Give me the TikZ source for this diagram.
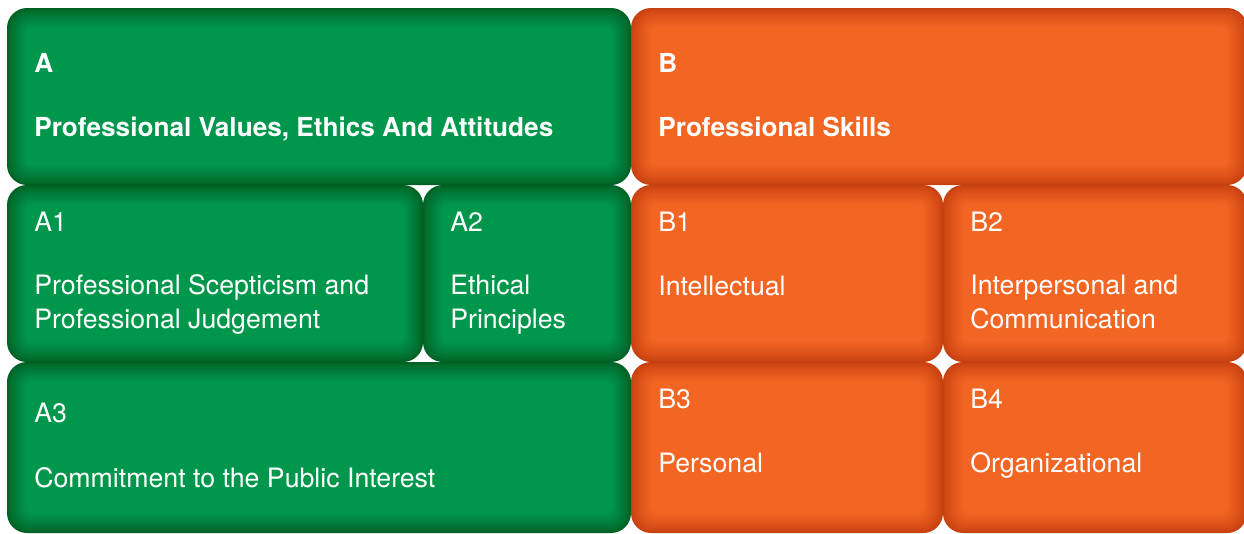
\documentclass[tikz,border=0pt]{standalone}
\usepackage{fontspec}
\setmainfont{TeX Gyre Heros}
\usetikzlibrary{positioning}
\definecolor{greenlight}{RGB}{0,151,76}
\definecolor{greendark}{RGB}{0,96,36}
\definecolor{orangelight}{RGB}{243,101,35}
\definecolor{orangedark}{RGB}{198,64,16}

\begin{document}
\begin{tikzpicture}[x=0.02cm,y=-0.02cm]
	\tikzset{
		label/.style={anchor=base west,inner sep=0,text=white,font=\fontsize{15.2}{18.8}\selectfont},
		heading/.style={label,font=\fontsize{14.9}{18.8}\selectfont\bfseries},
		body/.style={label,align=left},
	}
	\useasboundingbox (0,0) rectangle (1244,534);
	\clip (0,0) rectangle (1244,534);
	
	% panels: dark rim fading into a lighter core
	\foreach \name/\xa/\ya/\xb/\yb/\tone in {A/7/8/631/185/green, B/631/8/1247/185/orange,
		A1/7/185/423/362/green, A2/423/185/631/362/green, B1/631/185/943/362/orange, B2/943/185/1247/362/orange,
		A3/7/362/631/533/green, B3/631/362/943/533/orange, B4/943/362/1247/533/orange}{
		\foreach \i in {0,...,20}{
			\pgfmathsetmacro\pct{100*(\i/20)^0.8}
			\pgfmathsetmacro\rad{max(20-\i*0.7,4)*0.02}
			\fill[\tone light!\pct!\tone dark, rounded corners=\rad cm] (\xa+\i,\ya+\i) rectangle (\xb-\i,\yb-\i);
		}
		\coordinate (\name) at (\xa,\ya);
	}
	
	\node[heading] (A-code) at (34,72) {A};
	\node[heading] (A-text) at (34,136) {Professional Values, Ethics And Attitudes};
	\node[heading] (B-code) at (658,72) {B};
	\node[heading] (B-text) at (658,136) {Professional Skills};
	
	% multi-line labels sit on the baseline of their last line
	\foreach \name/\x/\y/\yy/\txt in {A1/34/231/328/{Professional Scepticism and\\Professional Judgement},
		A2/450/231/328/{Ethical\\Principles}, B1/658/231/295/{Intellectual},
		B2/970/231/328/{Interpersonal and\\Communication}, A3/34/422/487/{Commitment to the Public Interest},
		B3/658/408/472/{Personal}, B4/970/408/472/{Organizational}}{
		\node[label] (\name-code) at (\x,\y) {\name};
		\node[body] (\name-text) at (\x,\yy) {\txt};
	}
\end{tikzpicture}
\end{document}
